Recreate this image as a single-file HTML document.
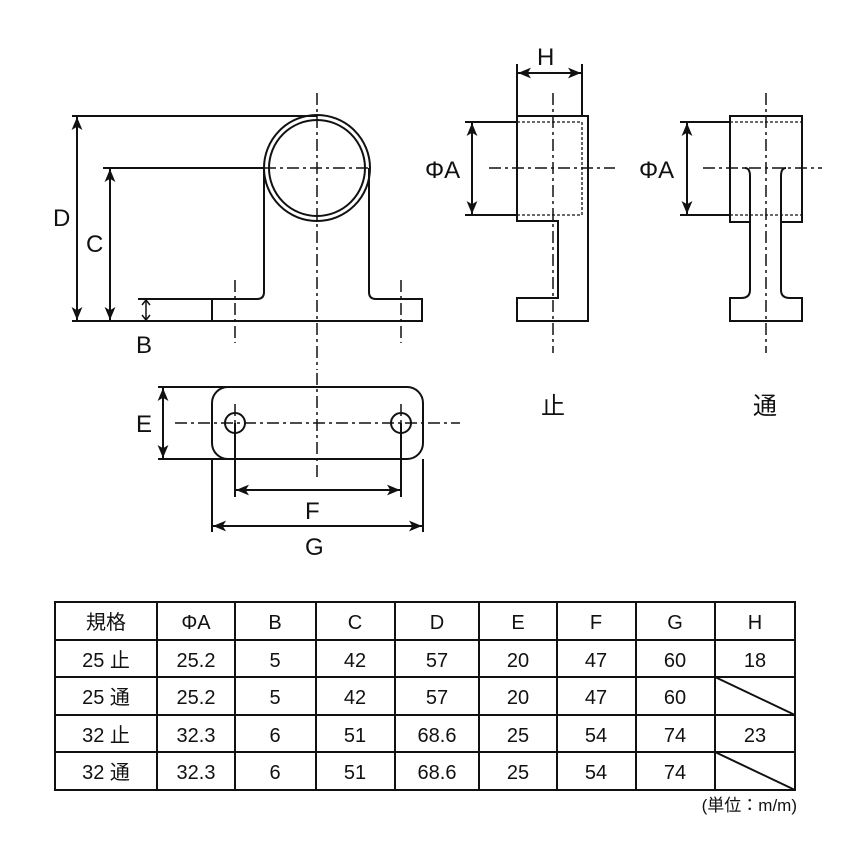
<!DOCTYPE html>
<html><head><meta charset="utf-8"><style>
html,body{margin:0;padding:0;background:#fff}
svg{display:block}
text{font-family:"Liberation Sans","Noto Sans CJK JP",sans-serif;fill:#111}
</style></head><body>
<svg width="856" height="856" viewBox="0 0 856 856" xmlns="http://www.w3.org/2000/svg">
<defs>
<marker id="a" viewBox="0 0 12 10" refX="12" refY="5" markerWidth="13" markerHeight="11" markerUnits="userSpaceOnUse" orient="auto-start-reverse"><path d="M0,0 L12,5 L0,10 L3,5 z" fill="#111"/></marker>
</defs>
<g stroke="#111" stroke-width="2" fill="none">
<circle cx="317" cy="168" r="53"/>
<circle cx="317" cy="168" r="48"/>
<path d="M264,168 V292 Q264,299 257,299 H212 V321 H422 V299 H376 Q369,299 369,292 V168"/>
<line x1="212" y1="321" x2="72" y2="321"/>
<line x1="212" y1="299" x2="138" y2="299"/>
<line x1="72" y1="116" x2="317" y2="116"/>
<line x1="103" y1="168" x2="264" y2="168"/>
<line x1="77" y1="117" x2="77" y2="320" marker-start="url(#a)" marker-end="url(#a)"/>
<line x1="110" y1="169" x2="110" y2="320" marker-start="url(#a)" marker-end="url(#a)"/>
<line x1="146" y1="300" x2="146" y2="320" stroke-width="1.5"/>
<path d="M142,305 L146,300 L150,305 M142,315 L146,320 L150,315" stroke-width="1.5"/>
<path d="M517,116 H588 V321 H517 V298 H558 V221 H517 Z"/>
<line x1="517" y1="64" x2="517" y2="116"/>
<line x1="582" y1="64" x2="582" y2="116"/>
<line x1="518" y1="73" x2="581" y2="73" marker-start="url(#a)" marker-end="url(#a)"/>
<line x1="465" y1="122" x2="517" y2="122"/>
<line x1="465" y1="215" x2="517" y2="215"/>
<line x1="472" y1="123" x2="472" y2="214" marker-start="url(#a)" marker-end="url(#a)"/>
<path d="M730,116 H802 V222 H781 V290 Q781,298 790,298 H802 V321 H730 V298 H741 Q750,298 750,290 V222 H730 Z"/>
<path d="M750,222 V176 Q750,168 745,168" />
<path d="M781,222 V176 Q781,168 786,168" />
<line x1="680" y1="122" x2="730" y2="122"/>
<line x1="680" y1="215" x2="730" y2="215"/>
<line x1="687" y1="123" x2="687" y2="214" marker-start="url(#a)" marker-end="url(#a)"/>
<rect x="212" y="387" width="211" height="72" rx="16"/>
<circle cx="235" cy="423" r="10"/>
<circle cx="401" cy="423" r="10"/>
<line x1="158" y1="387" x2="230" y2="387"/>
<line x1="158" y1="459" x2="230" y2="459"/>
<line x1="163" y1="388" x2="163" y2="458" marker-start="url(#a)" marker-end="url(#a)"/>
<line x1="235" y1="423" x2="235" y2="497"/>
<line x1="401" y1="423" x2="401" y2="497"/>
<line x1="236" y1="490" x2="400" y2="490" marker-start="url(#a)" marker-end="url(#a)"/>
<line x1="212" y1="459" x2="212" y2="532"/>
<line x1="423" y1="459" x2="423" y2="532"/>
<line x1="213" y1="526" x2="422" y2="526" marker-start="url(#a)" marker-end="url(#a)"/>
</g>
<g stroke="#111" stroke-width="1.5" fill="none" stroke-dasharray="12,4,3,4">
<line x1="317" y1="93" x2="317" y2="370"/>
<line x1="264" y1="168" x2="369" y2="168"/>
<line x1="235" y1="280" x2="235" y2="343"/>
<line x1="401" y1="280" x2="401" y2="343"/>
<line x1="553" y1="93" x2="553" y2="353"/>
<line x1="489" y1="168" x2="615" y2="168"/>
<line x1="766" y1="93" x2="766" y2="353"/>
<line x1="703" y1="168" x2="822" y2="168"/>
<line x1="317" y1="373" x2="317" y2="478"/>
<line x1="175" y1="423" x2="460" y2="423"/>
<line x1="235" y1="404" x2="235" y2="442"/>
<line x1="401" y1="404" x2="401" y2="442"/>
</g>
<g stroke="#111" stroke-width="1.3" fill="none" stroke-dasharray="3,2">
<path d="M517,122 H582 V215 H517"/>
<line x1="730" y1="122" x2="802" y2="122"/>
<line x1="730" y1="215" x2="802" y2="215"/>
</g>
<g font-size="24">
<text x="53" y="226">D</text>
<text x="86" y="252">C</text>
<text x="136" y="353">B</text>
<text x="136" y="432">E</text>
<text x="305" y="519">F</text>
<text x="305" y="555">G</text>
<text x="537" y="65">H</text>
<text x="425" y="178">ΦA</text>
<text x="639" y="178">ΦA</text>
<text x="541" y="414">止</text>
<text x="753" y="414">通</text>
</g>
<g stroke="#111" stroke-width="2" fill="none">
<rect x="55" y="602" width="740" height="188"/>
<line x1="55" y1="640" x2="795" y2="640"/>
<line x1="55" y1="677" x2="795" y2="677"/>
<line x1="55" y1="715" x2="795" y2="715"/>
<line x1="55" y1="752" x2="795" y2="752"/>
<line x1="157" y1="602" x2="157" y2="790"/>
<line x1="235" y1="602" x2="235" y2="790"/>
<line x1="316" y1="602" x2="316" y2="790"/>
<line x1="395" y1="602" x2="395" y2="790"/>
<line x1="479" y1="602" x2="479" y2="790"/>
<line x1="557" y1="602" x2="557" y2="790"/>
<line x1="636" y1="602" x2="636" y2="790"/>
<line x1="715" y1="602" x2="715" y2="790"/>
<line x1="715" y1="677" x2="795" y2="715"/>
<line x1="715" y1="752" x2="795" y2="790"/>
</g>
<g font-size="20" text-anchor="middle">
<text x="106" y="629">規格</text><text x="196" y="629">ΦA</text><text x="275" y="629">B</text><text x="355" y="629">C</text><text x="437" y="629">D</text><text x="518" y="629">E</text><text x="596" y="629">F</text><text x="675" y="629">G</text><text x="755" y="629">H</text>
<text x="106" y="667">25 止</text><text x="196" y="667">25.2</text><text x="275" y="667">5</text><text x="355" y="667">42</text><text x="437" y="667">57</text><text x="518" y="667">20</text><text x="596" y="667">47</text><text x="675" y="667">60</text><text x="755" y="667">18</text>
<text x="106" y="704">25 通</text><text x="196" y="704">25.2</text><text x="275" y="704">5</text><text x="355" y="704">42</text><text x="437" y="704">57</text><text x="518" y="704">20</text><text x="596" y="704">47</text><text x="675" y="704">60</text>
<text x="106" y="742">32 止</text><text x="196" y="742">32.3</text><text x="275" y="742">6</text><text x="355" y="742">51</text><text x="437" y="742">68.6</text><text x="518" y="742">25</text><text x="596" y="742">54</text><text x="675" y="742">74</text><text x="755" y="742">23</text>
<text x="106" y="779">32 通</text><text x="196" y="779">32.3</text><text x="275" y="779">6</text><text x="355" y="779">51</text><text x="437" y="779">68.6</text><text x="518" y="779">25</text><text x="596" y="779">54</text><text x="675" y="779">74</text>
</g>
<text x="797" y="811" font-size="17" text-anchor="end">(単位：m/m)</text>
</svg>
</body></html>
